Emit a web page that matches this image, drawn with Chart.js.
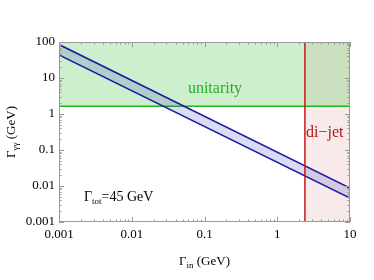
<!DOCTYPE html>
<html lang="en">
<head>
<meta charset="UTF-8">
<title>Gamma gamma width vs Gamma in</title>
<script src="https://cdn.jsdelivr.net/npm/chart.js"></script>
<style>
  html, body { margin: 0; padding: 0; background: #fff; }
  #wrap { width: 374px; height: 280px; }
</style>
</head>
<body>
<div id="wrap"><canvas id="chart" width="374" height="280"></canvas></div>
<script>
// data
const xRange = [0.001, 10];
const yRange = [0.001, 100];
const xTicks = [0.001, 0.01, 0.1, 1, 10];
const yTicks = [0.001, 0.01, 0.1, 1, 10, 100];
const upperLine = [{x: 0.001, y: 85}, {x: 10, y: 0.0088}];
const lowerLine = [{x: 0.001, y: 44}, {x: 10, y: 0.0046}];
const unitarityY = 1.65;
const dijetX = 2.4;

const serif = '"Liberation Serif", "DejaVu Serif", serif';

function decadeTicks(values) {
    return function (scale) {
        scale.ticks = values.map(v => ({value: v}));
    };
}

// frame, inward ticks and text labels
const decorPlugin = {
    id: 'decor',
    afterDraw(chart) {
        const {ctx, chartArea: a, scales: {x, y}} = chart;
        ctx.save();
        ctx.strokeStyle = '#999';
        ctx.lineWidth = 1;
        ctx.strokeRect(a.left + 0.5, a.top + 0.5, a.right - a.left - 1, a.bottom - a.top - 1);

        ctx.beginPath();
        for (let e = -3; e <= 1; e++) {
            for (let m = 1; m <= 9; m++) {
                const v = m * Math.pow(10, e);
                if (v > xRange[1] + 1e-9) break;
                const px = Math.round(x.getPixelForValue(v)) + 0.5;
                const len = m === 1 ? 5 : 2.5;
                ctx.moveTo(px, a.bottom); ctx.lineTo(px, a.bottom - len);
                ctx.moveTo(px, a.top); ctx.lineTo(px, a.top + len);
            }
        }
        for (let e = -3; e <= 2; e++) {
            for (let m = 1; m <= 9; m++) {
                const v = m * Math.pow(10, e);
                if (v > yRange[1] + 1e-9) break;
                const py = Math.round(y.getPixelForValue(v)) + 0.5;
                const len = m === 1 ? 5 : 2.5;
                ctx.moveTo(a.left, py); ctx.lineTo(a.left + len, py);
                ctx.moveTo(a.right, py); ctx.lineTo(a.right - len, py);
            }
        }
        ctx.stroke();

        ctx.textBaseline = 'alphabetic';
        // unitarity
        ctx.fillStyle = '#22b022';
        ctx.font = '16px ' + serif;
        ctx.textAlign = 'center';
        ctx.fillText('unitarity', 215, 93);
        // di-jet
        ctx.fillStyle = '#b01818';
        ctx.textAlign = 'left';
        ctx.fillText('di\u2212jet', 306, 137);

        // Gamma_tot = 45 GeV
        ctx.fillStyle = '#000';
        ctx.font = '14px ' + serif;
        let tx = 84;
        ctx.fillText('\u0393', tx, 201); tx += ctx.measureText('\u0393').width;
        ctx.font = '9px ' + serif;
        ctx.fillText('tot', tx, 204); tx += ctx.measureText('tot').width;
        ctx.font = '14px ' + serif;
        ctx.fillText('=45 GeV', tx, 201);

        // x title
        const g = '\u0393', rest = ' (GeV)';
        ctx.font = '9px ' + serif;
        const wSub = ctx.measureText('in').width;
        ctx.font = '13px ' + serif;
        const total = ctx.measureText(g).width + wSub + ctx.measureText(rest).width;
        tx = (a.left + a.right) / 2 - total / 2;
        ctx.fillText(g, tx, 265); tx += ctx.measureText(g).width;
        ctx.font = '9px ' + serif;
        ctx.fillText('in', tx, 268); tx += wSub;
        ctx.font = '13px ' + serif;
        ctx.fillText(rest, tx, 265);

        // y title
        ctx.translate(15, (a.top + a.bottom) / 2);
        ctx.rotate(-Math.PI / 2);
        ctx.font = '9px ' + serif;
        const wSub2 = ctx.measureText('\u03b3\u03b3').width;
        ctx.font = '13px ' + serif;
        const total2 = ctx.measureText(g).width + wSub2 + ctx.measureText(rest).width;
        tx = -total2 / 2;
        ctx.fillText(g, tx, 0); tx += ctx.measureText(g).width;
        ctx.font = '9px ' + serif;
        ctx.fillText('\u03b3\u03b3', tx, 3); tx += wSub2;
        ctx.font = '13px ' + serif;
        ctx.fillText(rest, tx, 0);
        ctx.restore();
    }
};

new Chart(document.getElementById('chart'), {
    type: 'line',
    data: {
        datasets: [
            {   // unitarity excluded region
                data: [{x: xRange[0], y: unitarityY}, {x: xRange[1], y: unitarityY}],
                borderColor: '#1fb81f', borderWidth: 1.5,
                backgroundColor: 'rgba(30,180,30,0.22)',
                fill: 'end', pointRadius: 0, order: 3
            },
            {   // di-jet excluded region
                data: [{x: dijetX, y: yRange[1]}, {x: xRange[1], y: yRange[1]}],
                borderWidth: 0, borderColor: 'rgba(0,0,0,0)',
                backgroundColor: 'rgba(190,60,60,0.11)',
                fill: 'start', pointRadius: 0, order: 4
            },
            {   // upper edge of band
                data: upperLine,
                borderColor: '#1a1aa0', borderWidth: 1.5,
                backgroundColor: 'rgba(40,40,170,0.17)',
                fill: '+1', pointRadius: 0, order: 1
            },
            {   // lower edge of band
                data: lowerLine,
                borderColor: '#1a1aa0', borderWidth: 1.5,
                fill: false, pointRadius: 0, order: 1
            },
            {   // di-jet boundary
                data: [{x: dijetX, y: yRange[0]}, {x: dijetX, y: yRange[1]}],
                borderColor: '#c41a1a', borderWidth: 1.5,
                fill: false, pointRadius: 0, order: 0
            }
        ]
    },
    options: {
        responsive: false,
        animation: false,
        layout: {padding: {left: 0, right: 24, top: 42, bottom: 0}},
        plugins: {legend: {display: false}, tooltip: {enabled: false}},
        scales: {
            x: {
                type: 'logarithmic', min: xRange[0], max: xRange[1],
                afterBuildTicks: decadeTicks(xTicks),
                afterFit(scale) { scale.height = 58; },
                grid: {display: false, drawTicks: false}, border: {display: false},
                ticks: {
                    color: '#000', padding: 5, maxRotation: 0, autoSkip: false,
                    font: {family: serif, size: 13},
                    callback: v => String(v)
                }
            },
            y: {
                type: 'logarithmic', min: yRange[0], max: yRange[1],
                afterBuildTicks: decadeTicks(yTicks),
                afterFit(scale) { scale.width = 59; },
                grid: {display: false, drawTicks: false}, border: {display: false},
                ticks: {
                    color: '#000', padding: 4, autoSkip: false,
                    font: {family: serif, size: 13},
                    callback: v => String(v)
                }
            }
        }
    },
    plugins: [decorPlugin]
});
</script>
</body>
</html>
